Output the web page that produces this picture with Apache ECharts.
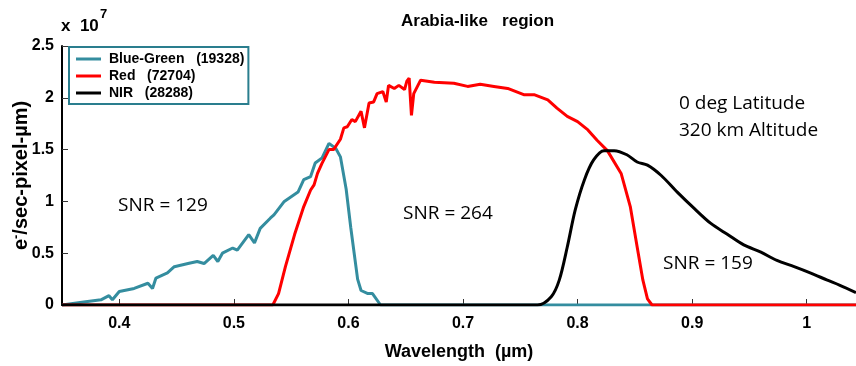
<!DOCTYPE html>
<html>
<head>
<meta charset="utf-8">
<script src="https://cdn.jsdelivr.net/npm/echarts@6/dist/echarts.min.js"></script>
<style>html,body{margin:0;padding:0;background:#fff}#c{width:856px;height:366px}</style>
</head>
<body>
<div id="c"></div>
<script>
// Wavelength (um) and signal (x 1e7 e-/sec-pixel-um)
var blueX = [0.350,0.369,0.384,0.391,0.394,0.400,0.413,0.425,0.429,0.432,0.442,0.448,0.460,0.468,0.474,0.482,0.486,0.490,0.499,0.503,0.513,0.518,0.523,0.532,0.535,0.544,0.556,0.561,0.567,0.571,0.577,0.583,0.589,0.593,0.598,0.602,0.605,0.608,0.611,0.617,0.621,0.628,1.043];
var blueY = [0,0.03,0.05,0.09,0.05,0.13,0.16,0.21,0.16,0.26,0.31,0.37,0.40,0.42,0.40,0.48,0.42,0.50,0.55,0.53,0.68,0.60,0.74,0.84,0.87,1.00,1.09,1.21,1.24,1.37,1.42,1.56,1.51,1.43,1.12,0.75,0.50,0.25,0.14,0.11,0.11,0,0];

var redX = [0.350,0.534,0.539,0.545,0.553,0.561,0.567,0.570,0.573,0.577,0.583,0.587,0.593,0.596,0.599,0.603,0.606,0.611,0.614,0.618,0.622,0.625,0.630,0.633,0.635,0.640,0.644,0.649,0.651,0.653,0.655,0.657,0.663,0.675,0.692,0.704,0.715,0.727,0.739,0.753,0.762,0.774,0.782,0.791,0.800,0.809,0.817,0.826,0.838,0.846,0.852,0.857,0.861,0.865,1.043];
var redY = [0,0,0.11,0.37,0.68,0.95,1.11,1.16,1.27,1.37,1.50,1.50,1.60,1.71,1.72,1.79,1.77,1.87,1.71,1.95,1.96,2.04,2.06,1.96,2.12,2.09,2.12,2.08,2.16,2.19,1.83,2.04,2.17,2.15,2.14,2.11,2.13,2.11,2.09,2.03,2.03,1.98,1.90,1.82,1.77,1.69,1.59,1.49,1.27,0.95,0.56,0.24,0.06,0,0];

var nirX = [0.350,0.765,0.777,0.784,0.791,0.798,0.806,0.814,0.823,0.832,0.843,0.852,0.861,0.873,0.887,0.902,0.916,0.931,0.945,0.960,0.974,0.989,1.003,1.018,1.029,1.043];
var nirY = [0,0,0.08,0.24,0.56,0.92,1.21,1.40,1.49,1.49,1.45,1.38,1.35,1.25,1.09,0.93,0.79,0.68,0.58,0.51,0.43,0.37,0.31,0.24,0.19,0.12];

var seriesNames = ['Blue-Green   (19328)', 'Red   (72704)', 'NIR   (28288)'];
var seriesColors = ['#348d9f', '#ff0000', '#000000'];
var annotations = [
  ['SNR = 129', 118, 206],
  ['SNR = 264', 403, 214],
  ['SNR = 159', 663, 264],
  ['0 deg Latitude', 679, 104],
  ['320 km Altitude', 679, 131]
];

function pairs(xs, ys) { return xs.map(function (x, i) { return [x, ys[i]]; }); }

var chart = echarts.init(document.getElementById('c'), null, {renderer: 'canvas'});
var font = '"Liberation Sans", Arial, sans-serif';

chart.setOption({
  animation: false,
  backgroundColor: '#fff',
  title: {
    text: 'Arabia-like   region',
    left: 396, top: 8,
    textStyle: {fontFamily: font, fontSize: 17, fontWeight: 'bold', color: '#000'}
  },
  legend: {
    orient: 'vertical',
    left: 69, top: 47,
    padding: [5, 4, 4, 7],
    itemGap: 3,
    itemWidth: 25, itemHeight: 3,
    icon: 'rect',
    borderColor: '#2a7e8e', borderWidth: 2,
    backgroundColor: '#fff',
    textStyle: {fontFamily: font, fontSize: 14, fontWeight: 'bold', color: '#000', padding: [0,0,0,3]},
    data: seriesNames
  },
  grid: {left: 62, right: 0, top: 46, bottom: 61, containLabel: false, outerBoundsMode: 'none'},
  xAxis: {
    type: 'value', min: 0.35, max: 1.043,
    splitNumber: 7,
    name: 'Wavelength  (µm)', nameLocation: 'middle', nameGap: 38, nameMoveOverlap: false,
    nameTextStyle: {fontFamily: font, fontSize: 18, fontWeight: 'bold', color: '#000'},
    axisLine: {lineStyle: {color: '#000', width: 2}},
    axisTick: {inside: true, length: 6, lineStyle: {color: '#333'}},
    splitLine: {show: false},
    axisLabel: {
      showMinLabel: false, showMaxLabel: false,
      fontFamily: font, fontSize: 16, fontWeight: 'bold', color: '#000', margin: 11,
      formatter: function (v) {
        var r = Math.round(v * 10);
        return Math.abs(v * 10 - r) < 1e-6 ? String(r / 10) : '';
      }
    }
  },
  yAxis: {
    type: 'value', min: 0, max: 2.5, interval: 0.5,
    name: '{n|e}{s|-}{n|/sec-pixel-µm)}', nameLocation: 'middle', nameGap: 30, nameMoveOverlap: false,
    nameTextStyle: {
      fontFamily: font, fontSize: 20, fontWeight: 'bold', color: '#000',
      rich: {
        n: {fontFamily: font, fontSize: 20, fontWeight: 'bold', color: '#000'},
        s: {fontFamily: font, fontSize: 13, fontWeight: 'bold', color: '#000', verticalAlign: 'top', padding: [0,0,9,0]}
      }
    },
    axisLine: {show: true, lineStyle: {color: '#000', width: 2}},
    axisTick: {show: true, inside: true, length: 6, lineStyle: {color: '#333'}},
    splitLine: {show: false},
    axisLabel: {fontFamily: font, fontSize: 16, fontWeight: 'bold', color: '#000', margin: 8}
  },
  graphic: [
    {type: 'text', x: 61, y: 26, style: {text: 'x  10', font: 'bold 17px ' + font, fill: '#000', verticalAlign: 'middle', textVerticalAlign: 'middle'}},
    {type: 'text', x: 100, y: 14, style: {text: '7', font: 'bold 13px ' + font, fill: '#000', verticalAlign: 'middle', textVerticalAlign: 'middle'}}
  ].concat(annotations.map(function (a) {
    return {type: 'text', x: a[1], y: a[2], style: {text: a[0], font: '19px "Open Sans", sans-serif', fill: '#000', verticalAlign: 'middle', textVerticalAlign: 'middle'}};
  })),
  series: [
    {name: seriesNames[0], type: 'line', data: pairs(blueX, blueY), showSymbol: false, color: seriesColors[0], lineStyle: {width: 3, color: seriesColors[0]}},
    {name: seriesNames[1], type: 'line', data: pairs(redX, redY), showSymbol: false, color: seriesColors[1], lineStyle: {width: 3, color: seriesColors[1]}},
    {name: seriesNames[2], type: 'line', data: pairs(nirX, nirY), showSymbol: false, smooth: 0.3, color: seriesColors[2], lineStyle: {width: 3, color: seriesColors[2]}}
  ]
});
</script>
</body>
</html>
